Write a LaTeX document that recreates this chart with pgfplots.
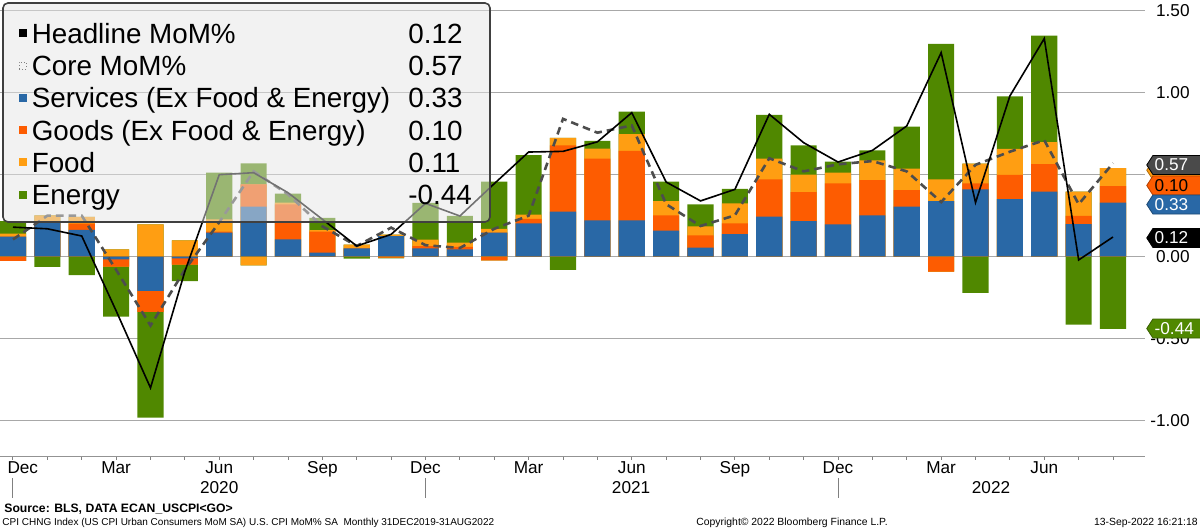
\documentclass[border=0pt]{standalone}
\usepackage{fontspec}
\setmainfont{Liberation Sans}
\usepackage{pgfplots}
\usepackage{pgfplotstable}
\pgfplotsset{compat=1.18}
\definecolor{cS}{HTML}{2968A6}
\definecolor{cG}{HTML}{FD5C01}
\definecolor{cF}{HTML}{FF9E12}
\definecolor{cE}{HTML}{508800}
\definecolor{cCore}{HTML}{4D4D4D}
\definecolor{cGrid}{HTML}{A8A8A8}
\definecolor{cBox}{HTML}{4A4A4A}

% i: month index (0 = Dec 2019 ... 32 = Aug 2022)
% S services ex F&E, G goods ex F&E, F food, E energy, H headline MoM%, C core MoM%
\pgfplotstableread{
i S G F E H C
0 0.122 -0.026 0.018 0.077 0.18 0.105
1 0.207 0.000 0.045 -0.062 0.17 0.25
2 0.163 0.039 0.040 -0.112 0.126 0.25
3 -0.016 -0.045 0.045 -0.305 -0.33 -0.08
4 -0.209 -0.128 0.197 -0.644 -0.80 -0.42
5 -0.010 -0.039 0.100 -0.100 -0.09 -0.08
6 0.146 0.006 0.075 0.285 0.50 0.21
7 0.305 0.136 -0.053 0.128 0.512 0.52
8 0.106 0.213 0.010 0.055 0.39 0.38
9 0.024 0.128 0.010 0.075 0.228 0.185
10 0.050 0.000 0.024 -0.012 0.065 0.065
11 0.125 -0.006 0.010 -0.005 0.136 0.177
12 0.050 0.014 0.040 0.224 0.325 0.07
13 0.045 0.014 0.026 0.163 0.248 0.053
14 0.146 -0.022 0.024 0.287 0.445 0.17
15 0.203 0.028 0.026 0.362 0.638 0.25
16 0.274 0.404 0.047 -0.081 0.642 0.84
17 0.222 0.376 0.061 0.047 0.70 0.756
18 0.222 0.423 0.102 0.138 0.878 0.80
19 0.159 0.093 0.087 0.118 0.455 0.32
20 0.055 0.075 0.055 0.134 0.34 0.187
21 0.138 0.065 0.122 0.089 0.41 0.252
22 0.244 0.228 0.126 0.266 0.868 0.60
23 0.217 0.177 0.106 0.179 0.695 0.52
24 0.197 0.250 0.065 0.067 0.577 0.563
25 0.252 0.215 0.120 0.061 0.648 0.583
26 0.305 0.100 0.132 0.256 0.797 0.52
27 0.339 -0.091 0.132 0.827 1.244 0.333
28 0.410 0.037 0.120 -0.220 0.33 0.56
29 0.351 0.147 0.159 0.320 0.98 0.64
30 0.396 0.169 0.133 0.649 1.33 0.71
31 0.198 0.051 0.147 -0.414 -0.02 0.32
32 0.330 0.100 0.110 -0.440 0.12 0.57
}\cpi

\newcommand{\tickfont}{\fontsize{8.6}{10}\selectfont}
\newcommand{\legfont}{\fontsize{13.9}{16}\selectfont}

\begin{document}
\begin{tikzpicture}[x=1pt,y=1pt]
\path[use as bounding box] (0pt,0pt) rectangle (600pt,264.5pt);
\begin{axis}[
  at={(0pt,36.15pt)}, anchor=south west,
  scale only axis, width=572.5pt, height=228.35pt,
  xmin=-0.378, xmax=32.93, ymin=-1.2195, ymax=1.565,
  axis x line*=bottom, axis y line*=right,
  x axis line style={draw=gray!85, line width=0.6pt, -},
  y axis line style={draw=none},
  ytick={-1,-0.5,0,0.5,1,1.5},
  yticklabels={-1.00,-0.50,0.00,0.50,1.00,1.50},
  yticklabel style={font=\tickfont, anchor=east, inner sep=0pt, xshift=21pt},
  ymajorgrids, grid style={draw=cGrid, line width=0.7pt},
  y tick style={draw=none},
  xtick={0,3,...,30},
  xticklabels={\hspace*{9.8pt}Dec,Mar,Jun,Sep,Dec,Mar,Jun,Sep,Dec,Mar,Jun},
  minor xtick={0,...,32},
  xticklabel style={font=\tickfont, inner sep=0pt, anchor=north, yshift=-0.8pt},
  x tick style={draw=gray, line width=0.5pt},
  tick align=outside, major tick length=1.5pt, minor tick length=1.5pt,
  clip=false,
  seg/.style={ybar, bar width=0.76, bar shift=0pt, draw=none, fill=#1},
]
% positive parts, stacked S, G, F, E from zero upward (drawn tallest first)
\addplot[seg=cE] table[x=i, y expr={max(\thisrow{S},0)+max(\thisrow{G},0)+max(\thisrow{F},0)+max(\thisrow{E},0)}]{\cpi};
\addplot[seg=cF] table[x=i, y expr={max(\thisrow{S},0)+max(\thisrow{G},0)+max(\thisrow{F},0)}]{\cpi};
\addplot[seg=cG] table[x=i, y expr={max(\thisrow{S},0)+max(\thisrow{G},0)}]{\cpi};
\addplot[seg=cS] table[x=i, y expr={max(\thisrow{S},0)}]{\cpi};
% negative parts, stacked S, G, F, E from zero downward
\addplot[seg=cE] table[x=i, y expr={min(\thisrow{S},0)+min(\thisrow{G},0)+min(\thisrow{F},0)+min(\thisrow{E},0)}]{\cpi};
\addplot[seg=cF] table[x=i, y expr={min(\thisrow{S},0)+min(\thisrow{G},0)+min(\thisrow{F},0)}]{\cpi};
\addplot[seg=cG] table[x=i, y expr={min(\thisrow{S},0)+min(\thisrow{G},0)}]{\cpi};
\addplot[seg=cS] table[x=i, y expr={min(\thisrow{S},0)}]{\cpi};
% lines
\addplot[cCore, line width=1.3pt, dash pattern=on 3.8pt off 2.5pt] table[x=i, y=C]{\cpi};
\addplot[black, line width=0.8pt] table[x=i, y=H]{\cpi};

% year labels and separators
\node[font=\tickfont] at (axis cs:6,-1.407) {2020};
\node[font=\tickfont] at (axis cs:17.98,-1.407) {2021};
\node[font=\tickfont] at (axis cs:28.45,-1.407) {2022};
\draw[gray, line width=0.5pt] (axis cs:0,-1.348) -- (axis cs:0,-1.47);
\draw[gray, line width=0.5pt] (axis cs:12,-1.348) -- (axis cs:12,-1.47);
\draw[gray, line width=0.5pt] (axis cs:24,-1.348) -- (axis cs:24,-1.47);

% right-hand value tags (the food tag lies almost hidden under the others, as in the original)
\filldraw[fill=cF, draw=cF!70!black, line width=0.4pt] (axis cs:32.98,0.527) -- (axis cs:33.16,0.585) -- (axis cs:35,0.585) -- (axis cs:35,0.469) -- (axis cs:33.16,0.469) -- cycle;
\filldraw[fill=cG, draw=cG!70!black, line width=0.4pt] (axis cs:32.98,0.434) -- (axis cs:33.16,0.492) -- (axis cs:35,0.492) -- (axis cs:35,0.376) -- (axis cs:33.16,0.376) -- cycle;
\node[anchor=west, inner sep=0pt, font=\tickfont] at (axis cs:33.2,0.434) {0.10};
\filldraw[fill=cS, draw=cS!70!black, line width=0.4pt] (axis cs:32.98,0.318) -- (axis cs:33.16,0.376) -- (axis cs:35,0.376) -- (axis cs:35,0.260) -- (axis cs:33.16,0.260) -- cycle;
\node[anchor=west, inner sep=0pt, font=\tickfont, text=white] at (axis cs:33.2,0.318) {0.33};
\filldraw[fill=cBox, draw=black, line width=0.4pt] (axis cs:32.98,0.559) -- (axis cs:33.16,0.617) -- (axis cs:35,0.617) -- (axis cs:35,0.501) -- (axis cs:33.16,0.501) -- cycle;
\node[anchor=west, inner sep=0pt, font=\tickfont, text=white] at (axis cs:33.2,0.559) {0.57};
\filldraw[fill=black, draw=black, line width=0.4pt] (axis cs:32.98,0.114) -- (axis cs:33.16,0.172) -- (axis cs:35,0.172) -- (axis cs:35,0.056) -- (axis cs:33.16,0.056) -- cycle;
\node[anchor=west, inner sep=0pt, font=\tickfont, text=white] at (axis cs:33.2,0.114) {0.12};
\filldraw[fill=cE, draw=cE!70!black, line width=0.4pt] (axis cs:32.98,-0.438) -- (axis cs:33.16,-0.380) -- (axis cs:35,-0.380) -- (axis cs:35,-0.496) -- (axis cs:33.16,-0.496) -- cycle;
\node[anchor=west, inner sep=0pt, font=\tickfont, text=white] at (axis cs:33.2,-0.438) {-0.44};
\end{axis}

% legend panel (semi-transparent)
\fill[black!10, fill opacity=0.5, rounded corners=2.5pt] (1.5pt,153.5pt) rectangle (245pt,263pt);
\draw[black!75, line width=0.8pt, rounded corners=2.5pt] (1.5pt,153.5pt) rectangle (245pt,263pt);
\fill[black] (9.25pt,245.85pt) rectangle (13.25pt,249.85pt);
\draw[gray, line width=0.5pt, densely dotted] (9.5pt,229.95pt) rectangle (13pt,233.45pt);
\fill[cS] (9.25pt,213.55pt) rectangle (13.25pt,217.55pt);
\fill[cG] (9.25pt,197.4pt) rectangle (13.25pt,201.4pt);
\fill[cF] (9.25pt,181.25pt) rectangle (13.25pt,185.25pt);
\fill[cE] (9.25pt,165.1pt) rectangle (13.25pt,169.1pt);
\begin{scope}[every node/.style={anchor=base west, inner sep=0pt, font=\legfont}]
\node at (15.7pt,242.85pt) {Headline MoM\%};
\node at (15.7pt,226.7pt) {Core MoM\%};
\node at (15.7pt,210.55pt) {Services (Ex Food \& Energy)};
\node at (15.7pt,194.4pt) {Goods (Ex Food \& Energy)};
\node at (15.7pt,178.25pt) {Food};
\node at (15.7pt,162.1pt) {Energy};
\node at (204pt,242.85pt) {0.12};
\node at (204pt,226.7pt) {0.57};
\node at (204pt,210.55pt) {0.33};
\node at (204pt,194.4pt) {0.10};
\node at (204pt,178.25pt) {0.11};
\node at (204pt,162.1pt) {-0.44};
\end{scope}

% footer
\node[anchor=base west, inner sep=0pt, font=\fontsize{6.1}{7}\selectfont\bfseries] at (2pt,8.4pt) {Source: BLS, DATA ECAN\_USCPI<GO>};
\node[anchor=base west, inner sep=0pt, font=\fontsize{5}{6}\selectfont] at (1pt,1.8pt) {CPI CHNG Index (US CPI Urban Consumers MoM SA) U.S. CPI MoM\% SA\ \ Monthly 31DEC2019-31AUG2022};
\node[anchor=base west, inner sep=0pt, font=\fontsize{5.2}{6}\selectfont] at (348pt,1.8pt) {Copyright© 2022 Bloomberg Finance L.P.};
\node[anchor=base east, inner sep=0pt, font=\fontsize{5.2}{6}\selectfont] at (599pt,1.8pt) {13-Sep-2022 16:21:18};
\end{tikzpicture}
\end{document}
